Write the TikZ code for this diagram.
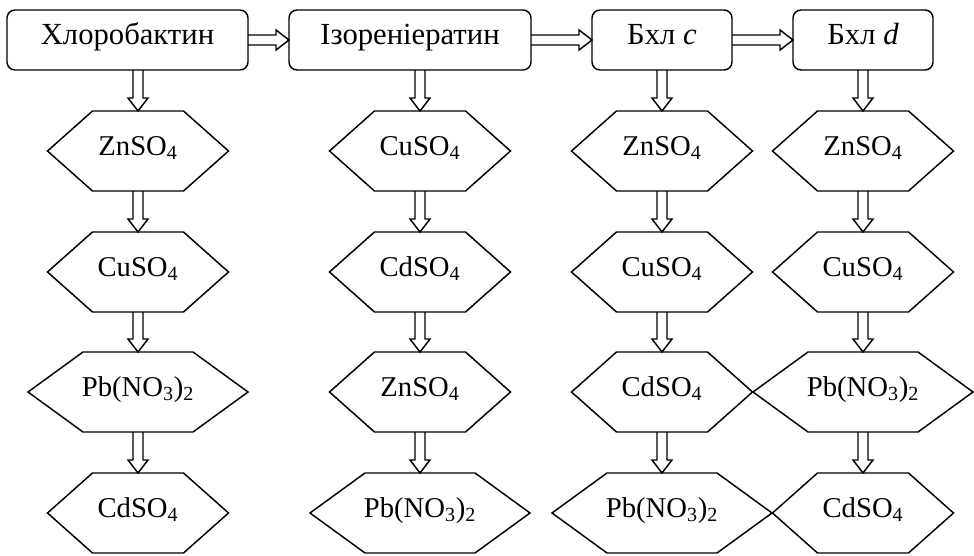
\documentclass[tikz,border=0pt]{standalone}
\usepackage{fontspec}
\setmainfont{Liberation Serif}
\usetikzlibrary{calc}

% hexagon drawn around an invisible rectangular node
\newcommand\hexa[3]{% name, centre, label
  \node[hexbox] (#1) at #2 {#3};
  \draw[line] (#1.west) -- ([xshift=\hexin]#1.north west) -- ([xshift=-\hexin]#1.north east)
    -- (#1.east) -- ([xshift=-\hexin]#1.south east) -- ([xshift=\hexin]#1.south west) -- cycle;
}
\newcommand\widehexa[3]{%
  \begingroup\def\hexin{55*0.75pt}%
  \node[hexbox,minimum width=220*0.75pt] (#1) at #2 {#3};
  \draw[line] (#1.west) -- ([xshift=\hexin]#1.north west) -- ([xshift=-\hexin]#1.north east)
    -- (#1.east) -- ([xshift=-\hexin]#1.south east) -- ([xshift=\hexin]#1.south west) -- cycle;
  \endgroup
}
\def\hexin{45*0.75pt}
\newcommand\sub[1]{\textsubscript{#1}}

% hollow block arrow pointing down, from node #1 to node #2
\newcommand\downarr[2]{%
  \draw[line] ($(#1.south -| #2.north)+(-5,0)$) -- ($(#2.north)+(-5,13)$) -- ($(#2.north)+(-10,13)$)
    -- (#2.north) -- ($(#2.north)+(10,13)$) -- ($(#2.north)+(5,13)$) -- ($(#1.south -| #2.north)+(5,0)$);
}
% hollow block arrow pointing right
\newcommand\rightarr[2]{%
  \draw[line] ($(#1.east)+(0,5)$) -- ($(#2.west)+(-13,5)$) -- ($(#2.west)+(-13,10)$)
    -- (#2.west) -- ($(#2.west)+(-13,-10)$) -- ($(#2.west)+(-13,-5)$) -- ($(#1.east)+(0,-5)$);
}

\begin{document}
\begin{tikzpicture}[x=0.75pt,y=0.75pt,
  line/.style={line width=1.1pt,line join=miter},
  topbox/.style={draw,line width=1.1pt,rounded corners=6pt,minimum height=60*0.75pt,
    inner sep=0pt,outer sep=0pt,text height=0.66em,text depth=0pt,
    font=\fontsize{23}{26}\selectfont},
  hexbox/.style={minimum width=181*0.75pt,minimum height=80*0.75pt,inner sep=0pt,outer sep=0pt,
    text height=0.66em,text depth=0pt,font=\fontsize{21.5}{24}\selectfont}]
\useasboundingbox (0,0) rectangle (974,-556);

% pigments
\node[topbox,minimum width=241*0.75pt] (b1) at (127.5,-40) {Хлоробактин};
\node[topbox,minimum width=242*0.75pt] (b2) at (410,-40) {Ізореніератин};
\node[topbox,minimum width=140*0.75pt] (b3) at (662,-40) {Бхл \textit{c}};
\node[topbox,minimum width=140*0.75pt] (b4) at (863,-40) {Бхл \textit{d}};

\rightarr{b1}{b2}
\rightarr{b2}{b3}
\rightarr{b3}{b4}

% column 1
\hexa{a1}{(138,-151)}{ZnSO\sub{4}}
\hexa{a2}{(138,-272)}{CuSO\sub{4}}
\widehexa{a3}{(138,-392)}{Pb(NO\sub{3})\sub{2}}
\hexa{a4}{(138,-513)}{CdSO\sub{4}}

% column 2
\hexa{c1}{(420,-151)}{CuSO\sub{4}}
\hexa{c2}{(420,-272)}{CdSO\sub{4}}
\hexa{c3}{(420,-392)}{ZnSO\sub{4}}
\widehexa{c4}{(420,-513)}{Pb(NO\sub{3})\sub{2}}

% column 3
\hexa{e1}{(662,-151)}{ZnSO\sub{4}}
\hexa{e2}{(662,-272)}{CuSO\sub{4}}
\hexa{e3}{(662,-392)}{CdSO\sub{4}}
\widehexa{e4}{(662,-513)}{Pb(NO\sub{3})\sub{2}}

% column 4
\hexa{g1}{(863,-151)}{ZnSO\sub{4}}
\hexa{g2}{(863,-272)}{CuSO\sub{4}}
\widehexa{g3}{(863,-392)}{Pb(NO\sub{3})\sub{2}}
\hexa{g4}{(863,-513)}{CdSO\sub{4}}

\downarr{b1}{a1}\downarr{a1}{a2}\downarr{a2}{a3}\downarr{a3}{a4}
\downarr{b2}{c1}\downarr{c1}{c2}\downarr{c2}{c3}\downarr{c3}{c4}
\downarr{b3}{e1}\downarr{e1}{e2}\downarr{e2}{e3}\downarr{e3}{e4}
\downarr{b4}{g1}\downarr{g1}{g2}\downarr{g2}{g3}\downarr{g3}{g4}
\end{tikzpicture}
\end{document}
